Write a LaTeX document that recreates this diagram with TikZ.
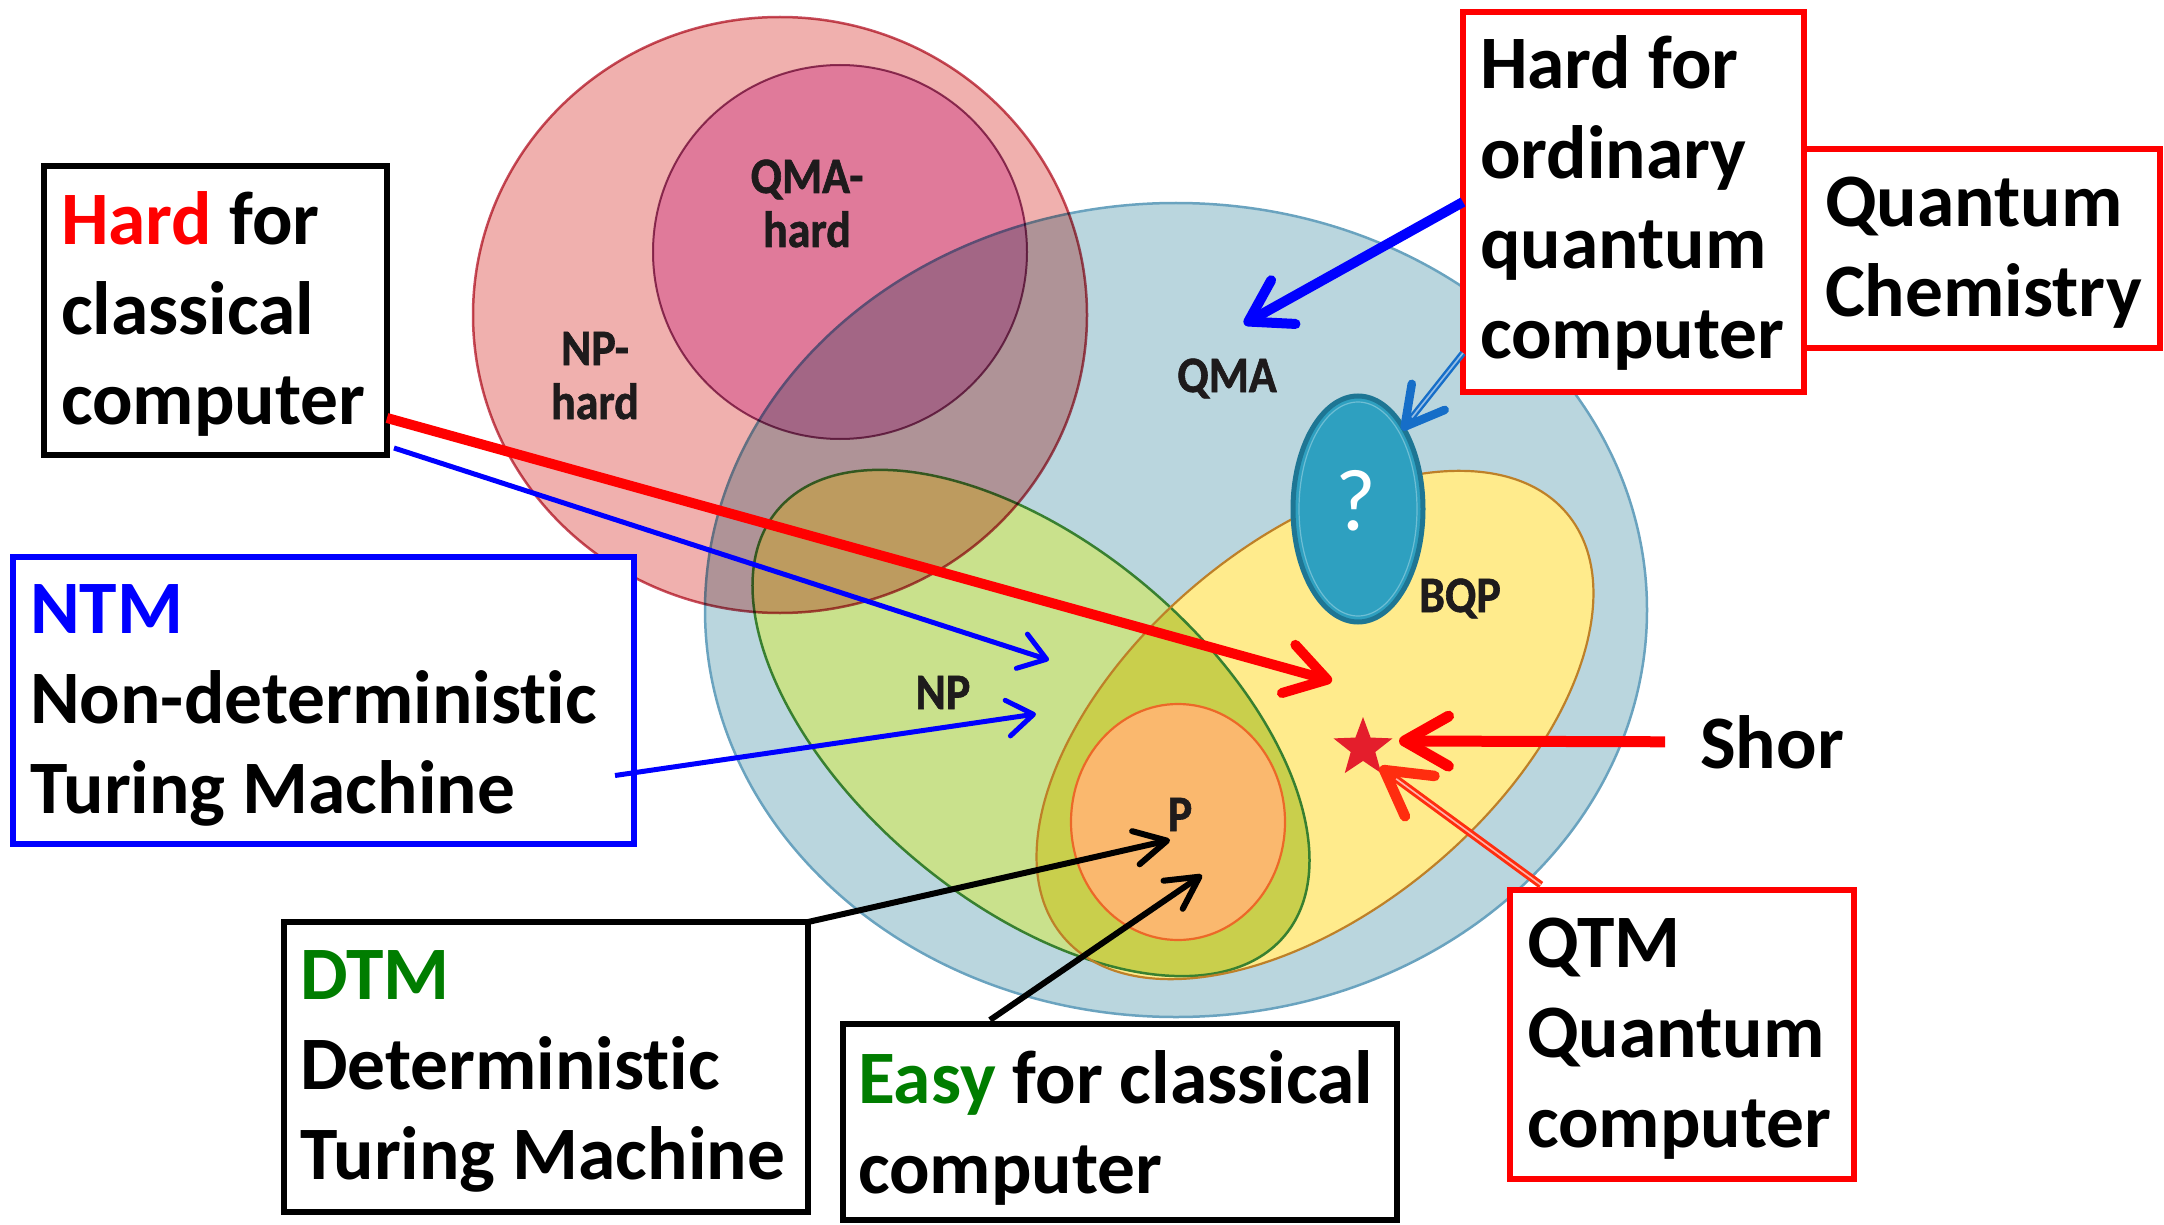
\documentclass[tikz,border=0pt]{standalone}
\usepackage{fontspec}
\setmainfont{Carlito}[Ligatures=NoCommon]
\newfontfamily\lblfamily[FakeStretch=0.9,FakeBold=1.2]{Carlito}
\usetikzlibrary{arrows.meta,shapes.geometric,calc}

\definecolor{qmafill}{RGB}{186,214,222}
\definecolor{qmaline}{RGB}{106,163,191}
\definecolor{nphfill}{RGB}{240,176,174}
\definecolor{nphline}{RGB}{200,80,95}
\definecolor{qmahfill}{RGB}{238,177,226}
\definecolor{qmahline}{RGB}{150,70,120}
\definecolor{npfill}{RGB}{201,225,140}
\definecolor{npline}{RGB}{56,128,48}
\definecolor{bqpfill}{RGB}{255,235,140}
\definecolor{bqpline}{RGB}{190,128,40}
\definecolor{pfill}{RGB}{250,184,110}
\definecolor{pline}{RGB}{236,104,40}
\definecolor{qfill}{RGB}{46,160,192}
\definecolor{qline}{RGB}{30,118,148}
\definecolor{qinner}{RGB}{110,190,212}
\definecolor{labelgray}{RGB}{30,27,28}
\definecolor{starred}{RGB}{228,30,44}
\definecolor{qtmred}{RGB}{255,45,15}
\definecolor{steelarrow}{RGB}{22,110,200}
\definecolor{dtmgreen}{RGB}{0,125,0}

\newcommand\boxlettering{\fontsize{75.5}{90}\selectfont\bfseries}

\tikzset{
  textbox/.style={draw, fill=white, line width=6.5pt, anchor=north west,
    outer sep=0pt, inner ysep=0pt, align=left, font=\boxlettering,
    execute at begin node={\spaceskip=17pt\relax}},
  vlabel/.style={font=\lblfamily\bfseries\fontsize{51}{54}\selectfont,
    text=labelgray, text width=220pt, align=center, anchor=base, inner sep=0pt},
  thickarrow/.style={line width=10pt, -{Straight Barb[length=40pt, width=50pt, round]}},
  thinarrow/.style={line width=5pt, -{Straight Barb[length=26pt, width=36pt, round]}},
  blackarrow/.style={line width=6pt, -{Straight Barb[length=32pt, width=34pt, round]}},
}

\begin{document}
\begin{tikzpicture}[x=1pt,y=-1pt]
\useasboundingbox (0,0) rectangle (2164,1225);

% centres of the complexity classes
\coordinate (qma)  at (1176,610);
\coordinate (nph)  at (780,315);
\coordinate (qmah) at (840,252);
\coordinate (np)   at (1031,723);
\coordinate (bqp)  at (1315,725);
\coordinate (pcl)  at (1178,822);
\coordinate (qcl)  at (1358,509);

% QMA
\draw[fill=qmafill, draw=qmaline, line width=2.5pt] (qma) ellipse [x radius=471, y radius=407];
% NP and BQP
\fill[npfill, rotate around={-40:(np)}] (np) ellipse [x radius=331, y radius=179];
\fill[bqpfill, rotate around={40:(bqp)}] (bqp) ellipse [x radius=329, y radius=184];
\begin{scope}
  \clip[rotate around={-40:(np)}] (np) ellipse [x radius=331, y radius=179];
  \fill[npfill, blend mode=multiply, rotate around={40:(bqp)}] (bqp) ellipse [x radius=329, y radius=184];
\end{scope}
\draw[npline, line width=2.5pt, rotate around={-40:(np)}] (np) ellipse [x radius=331, y radius=179];
\draw[bqpline, line width=2.2pt, rotate around={40:(bqp)}] (bqp) ellipse [x radius=329, y radius=184];
% P
\draw[fill=pfill, draw=pline, line width=2.2pt] (pcl) ellipse [x radius=107, y radius=118];
% unknown class inside QMA
\draw[fill=qfill, draw=qline, line width=5pt] (qcl) ellipse [x radius=65, y radius=113];
\draw[qinner, line width=1.2pt] (qcl) ellipse [x radius=59, y radius=107];
\node[font=\fontsize{88}{88}\selectfont, text=white, anchor=base, inner sep=0pt] (qmark) at (1356,530) {?};

% NP-hard and QMA-hard
\begin{scope}[blend mode=multiply]
  \draw[fill=nphfill, draw=nphline, line width=2.5pt] (nph) ellipse [x radius=307, y radius=298];
  \draw[fill=qmahfill, draw=qmahline, line width=2pt] (qmah) circle [radius=187];
\end{scope}

% class labels
\node[vlabel] (lqmah) at (807,193) {QMA-\\hard};
\node[vlabel] (lnph)  at (595,365) {NP-\\hard};
\node[vlabel] (lqma)  at (1227,392) {QMA};
\node[vlabel] (lbqp)  at (1460,612) {BQP};
\node[vlabel] (lnp)   at (943,709) {NP};
\node[vlabel] (lp)    at (1180,831) {P};

% Shor's algorithm
\node[star, star points=5, star point ratio=2.4, fill=starred, inner sep=0pt,
      minimum size=62pt] (star) at (1363,748) {};

% text boxes
\node[textbox, draw=black, inner xsep=17pt, text width=309pt, text height=79pt, text depth=210pt]
  (hardc) at (44,166) {\mbox{\textcolor{red}{Hard} for}\\classical\\computer};
\node[textbox, draw=blue, inner xsep=17pt, text width=587pt, text height=76pt, text depth=211pt]
  (ntm) at (13,557) {\textcolor{blue}{NTM}\\Non-deterministic\\\mbox{Turing Machine}};
\node[textbox, draw=black, inner xsep=16pt, text width=492pt, text height=77pt, text depth=213pt]
  (dtm) at (284,922) {\textcolor{dtmgreen}{DTM}\\Deterministic\\\mbox{Turing Machine}};
\node[textbox, draw=black, inner xsep=15pt, text width=524pt, text height=79pt, text depth=117pt]
  (easy) at (843,1024) {\mbox{\textcolor{dtmgreen}{Easy} for classical}\\computer};
\node[textbox, draw=red, inner xsep=21pt, text width=314pt, text height=78pt, text depth=121pt]
  (qchem) at (1804,149) {Quantum\\Chemistry};
\node[textbox, draw=red, inner xsep=17pt, text width=307pt, text height=77pt, text depth=303pt]
  (equ) at (1463,12) {\mbox{Hard for}\\ordinary\\quantum\\computer};
\node[textbox, draw=red, inner xsep=17pt, text width=310pt, text height=77pt, text depth=212pt]
  (qtm) at (1510,890) {QTM\\Quantum\\computer};
\node[font=\boxlettering, anchor=base west, inner sep=0pt] (shor) at (1700,768) {Shor};

% arrow targets
\coordinate (hardtip)  at (1332,681);
\coordinate (hardtipb) at (1049,660);
\coordinate (ntmtip)   at (1036,714);
\coordinate (qmatip)   at (1244,324);
\coordinate (qcltip)   at (1402,430);
\coordinate (shortip)  at (1399,741);
\coordinate (qtmtip)   at (1380,767);
\coordinate (dtmtip)   at (1170,840);
\coordinate (easytip)  at (1202,875);

% connectors
\draw[thickarrow, red] ($(hardc.south east)+(0,-37)$) -- (hardtip);
\draw[thinarrow, blue] ($(hardc.south east)+(7,-7)$) -- (hardtipb);
\draw[thinarrow, blue] ($(ntm.east)+(-19,75)$) -- (ntmtip);
\draw[thickarrow, blue] (equ.west) -- (qmatip);
\draw[steelarrow, line width=6.5pt, -{Straight Barb[length=38pt, width=42pt, line width=8.5pt, round]},
      postaction={draw=steelarrow!45!white, line width=1.6pt, -, shorten >=16pt}]
  ($(equ.south west)+(0,-39)$) -- (qcltip);
\draw[red, line width=11pt, -{Straight Barb[length=44pt, width=50pt, round]}]
  ($(shor.west)+(-35,0)$) -- (shortip);
\draw[qtmred, line width=7.5pt, -{Straight Barb[length=44pt, width=50pt, line width=10.5pt, round]},
      postaction={draw=qtmred!35!white, line width=1.6pt, -, shorten >=20pt}]
  ($(qtm.north west)+(31,-5)$) -- (qtmtip);
\draw[blackarrow, black] (dtm.north east) -- (dtmtip);
\draw[blackarrow, black] ($(easy.north west)+(147,-4)$) -- (easytip);
\end{tikzpicture}
\end{document}
